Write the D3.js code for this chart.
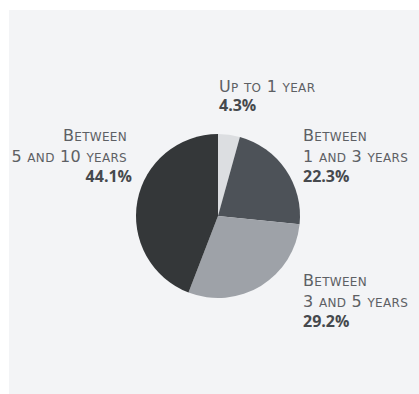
<!DOCTYPE html>
<html><head><meta charset="utf-8">
<script src="https://cdn.jsdelivr.net/npm/d3@7"></script>
<style>
html,body{margin:0;padding:0;background:#fff;}
svg text{font-family:"DejaVu Sans",sans-serif;}
svg text.pct{font-family:"Open Sans",sans-serif;}
</style></head>
<body>
<svg id="c" width="419" height="394"></svg>
<script>
const categories = ["Up to 1 year", "Between 1 and 3 years", "Between 3 and 5 years", "Between 5 and 10 years"];
const labelLines = [["Up to 1 year"], ["Between", "1 and 3 years"], ["Between", "3 and 5 years"], ["Between", "5 and 10 years"]];
const values = [4.3, 22.3, 29.2, 44.1];
const colors = ["#dcdee1", "#4d5258", "#9ea2a8", "#343739"];

const svg = d3.select("#c");
svg.append("rect").attr("x", 9).attr("y", 10).attr("width", 410).attr("height", 384).attr("fill", "#f3f4f6");

const cx = 218, cy = 216, r = 82;
const g = svg.append("g").attr("transform", `translate(${cx},${cy})`);
const pie = d3.pie().sort(null).value(d => d);
const arc = d3.arc().innerRadius(0).outerRadius(r);
const arcs = pie(values);
g.selectAll("path").data(arcs).join("path")
  .attr("d", arc).attr("fill", (d, i) => colors[i]);

// manual small caps: split into runs of lowercase vs other
function smallCaps(textSel, str, big, small) {
  const runs = [];
  for (const ch of str) {
    const low = ch !== ch.toUpperCase();
    const last = runs[runs.length - 1];
    if (last && last.low === low) last.s += ch; else runs.push({low, s: ch});
  }
  runs.forEach(rn => {
    textSel.append("tspan").attr("font-size", rn.low ? small : big)
      .text(rn.low ? rn.s.toUpperCase() : rn.s);
  });
}

const labelPos = [
  {x: 219, y: 91.5, anchor: "start", px: 219},
  {x: 303, y: 141, anchor: "start", px: 303},
  {x: 303, y: 286, anchor: "start", px: 303},
  {x: 127, y: 141, anchor: "end", px: 132}
];
const lh = 21;
labelPos.forEach((p, i) => {
  const t = svg.append("g");
  labelLines[i].forEach((line, j) => {
    const tx = t.append("text").attr("x", p.x).attr("y", p.y + j * lh)
      .attr("text-anchor", p.anchor)
      .attr("letter-spacing", 0.3)
      .attr("fill", "#5d6064");
    smallCaps(tx, line, 16, 12);
  });
  const n = labelLines[i].length;
  t.append("text").attr("class", "pct").attr("x", p.px)
    .attr("y", p.y + (n === 1 ? 19.5 : lh + 20))
    .attr("text-anchor", p.anchor)
    .attr("font-size", 16).attr("font-weight", "bold").attr("fill", "#46494d")
    .text(d3.format(".1f")(values[i]) + "%");
});
</script>
</body></html>
